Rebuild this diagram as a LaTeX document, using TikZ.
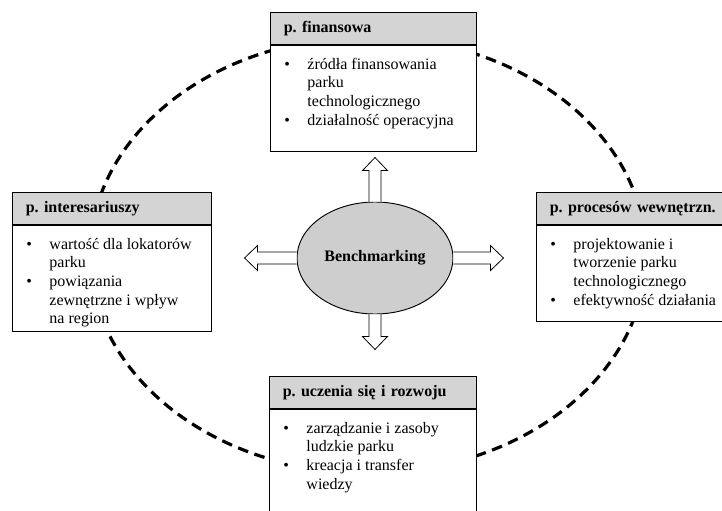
\documentclass[tikz,border=0pt]{standalone}
\usepackage{fontspec}
\setmainfont{Liberation Serif}
\frenchspacing
\definecolor{szaryNaglowek}{RGB}{212,212,212}
\definecolor{szaryElipsa}{RGB}{206,206,206}
\usetikzlibrary{shapes.geometric, positioning}

% punkt listy z wiszacym wcieciem
\newcommand{\pkt}[1]{\par\hangindent=27.75pt\hangafter=1\noindent
  \hbox to 27.75pt{\hskip 10.5pt\textbullet\hfil}\strut#1\par}
% tresc pola: szerokosc, wysokosc, punkty
\newcommand{\tresc}[3]{\parbox[t][#2][t]{#1}{\raggedright\vspace*{8pt}#3}}

\begin{document}
\begin{tikzpicture}[
  x=0.75pt, y=-0.75pt,
  naglowek/.style={rectangle, draw, line width=0.7pt, fill=szaryNaglowek,
                   minimum height=24pt, inner xsep=10pt, align=left,
                   font=\fontsize{12}{14}\selectfont\bfseries},
  cialo/.style={rectangle, draw, line width=0.7pt, fill=white, inner sep=0pt,
                font=\fontsize{12}{14}\selectfont},
  elipsa/.style={ellipse, draw, line width=0.7pt, fill=szaryElipsa,
                 minimum width=117pt, minimum height=84pt, inner sep=0pt,
                 font=\fontsize{12}{14}\selectfont\bfseries},
  blok/.style={draw, line width=0.6pt, fill=white, line join=miter},
  przerywana/.style={draw, line width=2.4pt, dash pattern=on 8pt off 5pt},
  pics/strzalka/.style={code={
    \draw[blok] (0,-6) -- (#1-13,-6) -- (#1-13,-12.5) -- (#1,0)
                -- (#1-13,12.5) -- (#1-13,6) -- (0,6);}}
]
\useasboundingbox (0,0) rectangle (722,511);

% Okrag perspektyw
\draw[przerywana] (368,255) ellipse [x radius=208.5pt, y radius=163.5pt];

% Perspektywa finansowa
\node[naglowek, anchor=north west, text width=134.5pt] (finH) at (270,12) {p. finansowa};
\node[cialo, below right=0pt of finH.south west] (finB) {\tresc{154.5pt}{79.5pt}{%
  \pkt{źródła finansowania\newline parku\newline technologicznego}
  \pkt{działalność operacyjna}}};

% Perspektywa interesariuszy
\node[naglowek, anchor=north west, text width=129.25pt] (intH) at (12,192) {p. interesariuszy};
\node[cialo, below right=0pt of intH.south west] (intB) {\tresc{149.25pt}{79.5pt}{%
  \pkt{wartość dla lokatorów\newline parku}
  \pkt{powiązania\newline zewnętrzne i wpływ\newline na region}}};

% Perspektywa procesow wewnetrznych
\node[naglowek, anchor=north west, text width=126pt] (proH) at (536,192) {p. procesów wewnętrzn.};
\node[cialo, below right=0pt of proH.south west] (proB) {\tresc{146pt}{72pt}{%
  \pkt{projektowanie i\newline tworzenie parku\newline technologicznego}
  \pkt{efektywność działania}}};

% Perspektywa uczenia sie i rozwoju
\node[naglowek, anchor=north west, text width=135.25pt] (uczH) at (269,376) {p. uczenia się i rozwoju};
\node[cialo, below right=0pt of uczH.south west] (uczB) {\tresc{155.25pt}{82.5pt}{%
  \pkt{zarządzanie i zasoby\newline ludzkie parku}
  \pkt{kreacja i transfer\newline wiedzy}}};

% Benchmarking
\node[elipsa] (bench) at (375,258) {Benchmarking};

\pic[rotate=90]  (strGora)  at (bench.north) {strzalka=44};
\pic[rotate=270] (strDol)   at (bench.south) {strzalka=35};
\pic[rotate=180] (strLewa)  at (bench.west)  {strzalka=52};
\pic             (strPrawa) at (bench.east)  {strzalka=50};

\end{tikzpicture}
\end{document}
